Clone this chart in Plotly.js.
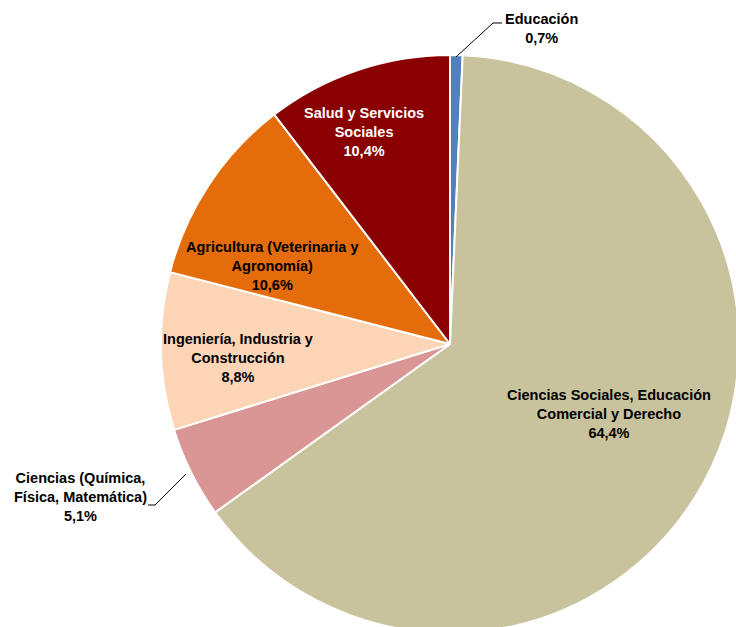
<!DOCTYPE html>
<html>
<head>
<meta charset="utf-8">
<script src="https://cdn.plot.ly/plotly-3.0.1.min.js"></script>
<style>
html,body{margin:0;padding:0;overflow:hidden;background:#fff;width:736px;height:627px;}
#chart{width:780px;height:700px;position:absolute;left:0;top:0;}
</style>
</head>
<body>
<div id="chart"></div>
<script>
// Data
var categories = [
  "Educación",
  "Ciencias Sociales, Educación Comercial y Derecho",
  "Ciencias (Química, Física, Matemática)",
  "Ingeniería, Industria y Construcción",
  "Agricultura (Veterinaria y Agronomía)",
  "Salud y Servicios Sociales"
];
var values = [0.7, 64.4, 5.1, 8.8, 10.6, 10.4];
var labelLines = [
  "Educación",
  "Ciencias Sociales, Educación<br>Comercial y Derecho",
  "Ciencias (Química,<br>Física, Matemática)",
  "Ingeniería, Industria y<br>Construcción",
  "Agricultura (Veterinaria y<br>Agronomía)",
  "Salud y Servicios<br>Sociales"
];

// Styling / layout (not data)
var colors = ["#4F81BD", "#C9C39D", "#D99694", "#FBD5B5", "#E46C0A", "#8A0000"];
var textColors = ["#000", "#000", "#000", "#000", "#000", "#fff"];
var labelPos = [[541, 28], [609, 414], [80, 497], [238, 358], [272, 266], [364, 132]];

var W = 780, H = 700;
var CX = 450, CY = 344, R = 289;
function px(x){ return x / W; }
function py(y){ return 1 - y / H; }

var annotations = categories.map(function(c, i){
  return {
    xref: "paper", yref: "paper",
    x: px(labelPos[i][0]), y: py(labelPos[i][1]),
    xanchor: "center", yanchor: "middle",
    showarrow: false, align: "center",
    text: "<b>" + labelLines[i] + "<br>" + values[i].toFixed(1).replace(".", ",") + "%</b>",
    font: {family: "Liberation Sans, Arial, sans-serif", size: 14.5, color: textColors[i]}
  };
});

function pathPx(pts){
  return pts.map(function(p, k){ return (k ? "L" : "M") + px(p[0]) + "," + py(p[1]); }).join(" ");
}
var shapes = [
  {type: "path", xref: "paper", yref: "paper", path: pathPx([[456, 57], [493, 23], [502, 23]]), line: {color: "#000", width: 1}},
  {type: "path", xref: "paper", yref: "paper", path: pathPx([[186, 474], [155, 505], [148, 505]]), line: {color: "#000", width: 1}}
];

var trace = {
  type: "pie",
  labels: categories,
  values: values,
  sort: false,
  direction: "clockwise",
  rotation: 0,
  textinfo: "none",
  hoverinfo: "none",
  marker: {colors: colors, line: {color: "#fff", width: 2}},
  domain: {x: [(CX - R) / W, (CX + R) / W], y: [(H - CY - R) / H, (H - CY + R) / H]},
  showlegend: false
};

var layout = {
  width: W, height: H,
  margin: {l: 0, r: 0, t: 0, b: 0},
  paper_bgcolor: "#fff",
  showlegend: false,
  annotations: annotations,
  shapes: shapes
};

Plotly.newPlot("chart", [trace], layout, {displayModeBar: false, staticPlot: true});
</script>
</body>
</html>
